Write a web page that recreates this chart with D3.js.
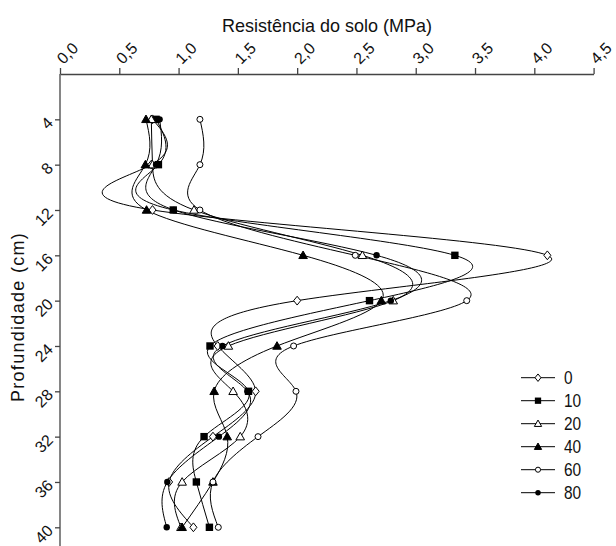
<!DOCTYPE html>
<html><head><meta charset="utf-8">
<script src="https://cdn.jsdelivr.net/npm/d3@7/dist/d3.min.js"></script>
<style>
body{margin:0;background:#fff;}
text{font-family:"Liberation Sans",Arial,sans-serif;fill:#111;}
</style></head>
<body><svg id="c" width="616" height="546"></svg>
<script>
// ---- data ----
const depths = [4, 8, 12, 16, 20, 24, 28, 32, 36, 40];
const seriesNames = ["0", "10", "20", "40", "60", "80"];
const s0  = [0.78, 0.77, 0.78, 4.11, 2.00, 1.33, 1.65, 1.29, 0.92, 1.125];
const s10 = [0.81, 0.83, 0.955, 3.33, 2.61, 1.265, 1.59, 1.215, 1.15, 1.26];
const s20 = [0.77, 0.78, 1.13, 2.55, 2.81, 1.42, 1.46, 1.52, 1.03, 1.02];
const s40 = [0.725, 0.72, 0.73, 2.05, 2.71, 1.83, 1.30, 1.41, 1.29, 1.03];
const s60 = [1.18, 1.18, 1.18, 2.49, 3.43, 1.97, 1.99, 1.67, 1.29, 1.335];
const s80 = [0.84, 0.81, 0.96, 2.67, 2.79, 1.37, 1.58, 1.34, 0.905, 0.90];
const xTicks = [0, 0.5, 1.0, 1.5, 2.0, 2.5, 3.0, 3.5, 4.0, 4.5];
const xTitle = "Resistência do solo (MPa)";
const yTitle = "Profundidade (cm)";

const allSeries = [s0, s10, s20, s40, s60, s80];
const markers = ["diamondOpen", "squareFill", "triOpen", "triFill", "circOpen", "circFill"];

const svg = d3.select("#c");
const x = d3.scaleLinear().domain([0, 4.5]).range([60, 593.6]);
const y = d3.scaleLinear().domain([0, 41.65]).range([74, 546]);

// x axis (top)
const xa = svg.append("g").attr("transform", `translate(0,${y(0)})`)
  .call(d3.axisTop(x).tickValues(xTicks).tickSize(6).tickSizeOuter(0)
    .tickFormat(d => d.toFixed(1).replace(".", ",")));
xa.select(".domain").attr("stroke", "#444").attr("stroke-width", 1.3);
xa.selectAll(".tick line").attr("stroke", "#444").attr("stroke-width", 1.3);
xa.selectAll(".tick text").attr("x", null).attr("y", null).attr("dy", null)
  .attr("text-anchor", "start").attr("font-size", 16)
  .attr("transform", "translate(3,-9) rotate(-45)");

// y axis (left)
const ya = svg.append("g").attr("transform", `translate(${x(0)},0)`)
  .call(d3.axisLeft(y).tickValues(depths).tickSize(5).tickSizeOuter(0));
ya.select(".domain").attr("stroke", "#444").attr("stroke-width", 1.3)
  .attr("d", `M0,${y(0)}V${y(41.65)}`);
ya.selectAll(".tick line").attr("stroke", "#444").attr("stroke-width", 1.3);
ya.selectAll(".tick text").attr("x", null).attr("y", null).attr("dy", null)
  .attr("text-anchor", "end").attr("font-size", 16)
  .attr("transform", "translate(-6,4) rotate(-45)");

// titles
svg.append("text").attr("x", 327).attr("y", 32).attr("text-anchor", "middle")
  .attr("font-size", 19).attr("textLength", 210).attr("lengthAdjust", "spacingAndGlyphs")
  .text(xTitle);
svg.append("text").attr("transform", "translate(24,317) rotate(-90)")
  .attr("text-anchor", "middle").attr("font-size", 18).attr("letter-spacing", 1.3)
  .text(yTitle);

// curves
const line = d3.line().x(d => x(d[0])).y(d => y(d[1])).curve(d3.curveNatural);
allSeries.forEach(s => {
  svg.append("path").datum(s.map((v, i) => [v, depths[i]]))
    .attr("d", line).attr("fill", "none").attr("stroke", "#000").attr("stroke-width", 1);
});

function drawMarker(g, type, cx, cy, scale) {
  const k = scale || 1;
  if (type === "diamondOpen") {
    const r = 4.4 * k;
    g.append("path").attr("d", `M${cx},${cy - r}L${cx + r * 0.8},${cy}L${cx},${cy + r}L${cx - r * 0.8},${cy}Z`)
      .attr("fill", "#fff").attr("stroke", "#000").attr("stroke-width", 1);
  } else if (type === "squareFill") {
    const r = 3.7 * k;
    g.append("rect").attr("x", cx - r).attr("y", cy - r).attr("width", 2 * r).attr("height", 2 * r)
      .attr("fill", "#000");
  } else if (type === "triOpen" || type === "triFill") {
    const r = 4.3 * k;
    g.append("path").attr("d", `M${cx},${cy - r}L${cx + r},${cy + r * 0.75}L${cx - r},${cy + r * 0.75}Z`)
      .attr("fill", type === "triFill" ? "#000" : "#fff").attr("stroke", "#000").attr("stroke-width", 1);
  } else if (type === "circOpen") {
    g.append("circle").attr("cx", cx).attr("cy", cy).attr("r", 3 * k)
      .attr("fill", "#fff").attr("stroke", "#000").attr("stroke-width", 1);
  } else {
    g.append("circle").attr("cx", cx).attr("cy", cy).attr("r", 3.2 * k).attr("fill", "#000");
  }
}

const mg = svg.append("g");
allSeries.forEach((s, si) => {
  s.forEach((v, i) => drawMarker(mg, markers[si], x(v), y(depths[i])));
});

// legend
const lg = svg.append("g");
seriesNames.forEach((n, i) => {
  const ly = 377.7 + i * 23;
  lg.append("line").attr("x1", 521).attr("x2", 555).attr("y1", ly).attr("y2", ly)
    .attr("stroke", "#000").attr("stroke-width", 1);
  drawMarker(lg, markers[i], 538, ly, 0.85);
  lg.append("text").attr("x", 564).attr("y", ly + 6).attr("font-size", 17.5)
    .attr("transform", `translate(${564 * 0.12},0) scale(0.88,1)`).text(n);
});
</script></body></html>
